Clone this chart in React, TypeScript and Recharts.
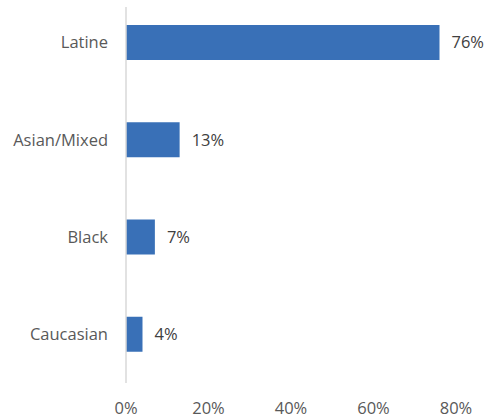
import React from 'react';
import { BarChart, Bar, XAxis, YAxis, LabelList } from 'recharts';

const categories = ['Latine', 'Asian/Mixed', 'Black', 'Caucasian'];
const values = [76, 13, 7, 4];
const xTicks = [0, 20, 40, 60, 80];

const data = categories.map((name, i) => ({ name, value: values[i] }));

const FONT = '"Open Sans", sans-serif';

export default function App() {
  return (
    <div style={{ position: 'absolute', left: 0, top: 0, background: '#fff' }}>
      <BarChart
        width={484}
        height={419}
        data={data}
        layout="vertical"
        margin={{ top: 7, right: 28, bottom: 6, left: 0 }}
      >
        <XAxis
          type="number"
          domain={[0, 80]}
          ticks={xTicks}
          tickFormatter={(v: number) => `${v}%`}
          axisLine={false}
          tickLine={false}
          tickSize={0}
          tickMargin={19}
          height={30}
          interval={0}
          tick={{ fill: '#595959', fontSize: 16.5, fontFamily: FONT }}
        />
        <YAxis
          type="category"
          dataKey="name"
          width={126}
          padding={{ top: -13, bottom: 0 }}
          axisLine={{ stroke: '#d9d9d9', strokeWidth: 1.5 }}
          tickLine={false}
          tickSize={0}
          tickMargin={18}
          interval={0}
          tick={{ fill: '#595959', fontSize: 16.5, fontFamily: FONT }}
        />
        <Bar dataKey="value" fill="#3970b7" barSize={35} isAnimationActive={false}>
          <LabelList
            dataKey="value"
            position="right"
            offset={12}
            formatter={(v: number) => `${v}%`}
            style={{ fill: '#404040', fontSize: 16.5, fontFamily: FONT }}
          />
        </Bar>
      </BarChart>
    </div>
  );
}
